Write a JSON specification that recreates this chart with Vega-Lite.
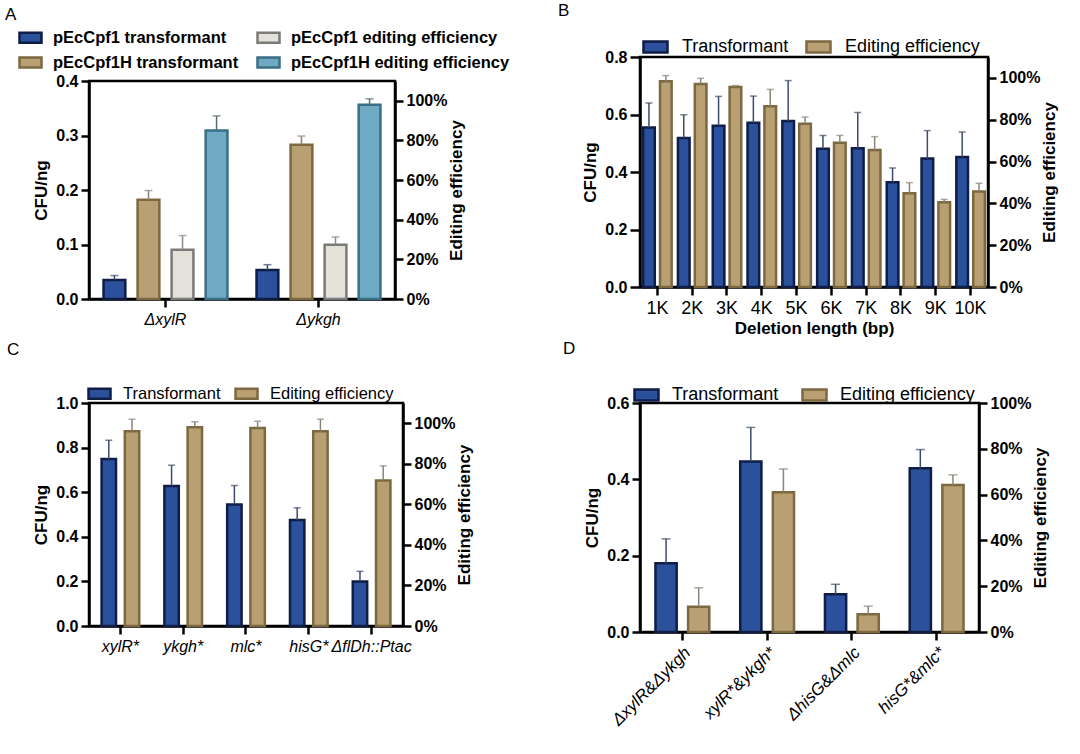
{
  "$schema": "https://vega.github.io/schema/vega-lite/v6.json",
  "background": "white",
  "padding": {"left": 3, "top": 0, "right": 5, "bottom": 5},
  "datasets": {
    "A": [
      {"g": "ΔxylR", "s": "pEcCpf1 transformant", "ax": "L", "v": 0.035, "e": 0.043},
      {"g": "ΔxylR", "s": "pEcCpf1H transformant", "ax": "L", "v": 0.182, "e": 0.199},
      {"g": "ΔxylR", "s": "pEcCpf1 editing efficiency", "ax": "R", "v": 24.9, "e": 32.0},
      {"g": "ΔxylR", "s": "pEcCpf1H editing efficiency", "ax": "R", "v": 85.0, "e": 92.4},
      {"g": "Δykgh", "s": "pEcCpf1 transformant", "ax": "L", "v": 0.053, "e": 0.063},
      {"g": "Δykgh", "s": "pEcCpf1H transformant", "ax": "L", "v": 0.283, "e": 0.299},
      {"g": "Δykgh", "s": "pEcCpf1 editing efficiency", "ax": "R", "v": 27.4, "e": 31.3},
      {"g": "Δykgh", "s": "pEcCpf1H editing efficiency", "ax": "R", "v": 98.0, "e": 101.0}
    ],
    "B": [
      {"g": "1K", "s": "Transformant", "ax": "L", "v": 0.555, "e": 0.640},
      {"g": "2K", "s": "Transformant", "ax": "L", "v": 0.518, "e": 0.599},
      {"g": "3K", "s": "Transformant", "ax": "L", "v": 0.561, "e": 0.663},
      {"g": "4K", "s": "Transformant", "ax": "L", "v": 0.571, "e": 0.664},
      {"g": "5K", "s": "Transformant", "ax": "L", "v": 0.577, "e": 0.718},
      {"g": "6K", "s": "Transformant", "ax": "L", "v": 0.481, "e": 0.527},
      {"g": "7K", "s": "Transformant", "ax": "L", "v": 0.483, "e": 0.607},
      {"g": "8K", "s": "Transformant", "ax": "L", "v": 0.364, "e": 0.414},
      {"g": "9K", "s": "Transformant", "ax": "L", "v": 0.447, "e": 0.544},
      {"g": "10K", "s": "Transformant", "ax": "L", "v": 0.452, "e": 0.539},
      {"g": "1K", "s": "Editing efficiency", "ax": "R", "v": 98.4, "e": 101.1},
      {"g": "2K", "s": "Editing efficiency", "ax": "R", "v": 97.1, "e": 99.8},
      {"g": "3K", "s": "Editing efficiency", "ax": "R", "v": 95.7, "e": 96.3},
      {"g": "4K", "s": "Editing efficiency", "ax": "R", "v": 86.4, "e": 94.5},
      {"g": "5K", "s": "Editing efficiency", "ax": "R", "v": 78.1, "e": 81.3},
      {"g": "6K", "s": "Editing efficiency", "ax": "R", "v": 69.0, "e": 72.5},
      {"g": "7K", "s": "Editing efficiency", "ax": "R", "v": 65.5, "e": 71.9},
      {"g": "8K", "s": "Editing efficiency", "ax": "R", "v": 44.8, "e": 49.9},
      {"g": "9K", "s": "Editing efficiency", "ax": "R", "v": 40.5, "e": 41.9},
      {"g": "10K", "s": "Editing efficiency", "ax": "R", "v": 45.7, "e": 49.6}
    ],
    "C": [
      {"g": "xylR*", "s": "Transformant", "ax": "L", "v": 0.749, "e": 0.833},
      {"g": "ykgh*", "s": "Transformant", "ax": "L", "v": 0.628, "e": 0.721},
      {"g": "mlc*", "s": "Transformant", "ax": "L", "v": 0.545, "e": 0.630},
      {"g": "hisG*", "s": "Transformant", "ax": "L", "v": 0.475, "e": 0.530},
      {"g": "ΔflDh::Ptac", "s": "Transformant", "ax": "L", "v": 0.199, "e": 0.245},
      {"g": "xylR*", "s": "Editing efficiency", "ax": "R", "v": 96.1, "e": 102.0},
      {"g": "ykgh*", "s": "Editing efficiency", "ax": "R", "v": 98.0, "e": 100.7},
      {"g": "mlc*", "s": "Editing efficiency", "ax": "R", "v": 97.7, "e": 101.0},
      {"g": "hisG*", "s": "Editing efficiency", "ax": "R", "v": 96.1, "e": 102.0},
      {"g": "ΔflDh::Ptac", "s": "Editing efficiency", "ax": "R", "v": 71.8, "e": 79.0}
    ],
    "D": [
      {"g": "ΔxylR&Δykgh", "s": "Transformant", "ax": "L", "v": 0.180, "e": 0.244},
      {"g": "xylR*&ykgh*", "s": "Transformant", "ax": "L", "v": 0.447, "e": 0.536},
      {"g": "ΔhisG&Δmlc", "s": "Transformant", "ax": "L", "v": 0.099, "e": 0.125},
      {"g": "hisG*&mlc*", "s": "Transformant", "ax": "L", "v": 0.429, "e": 0.478},
      {"g": "ΔxylR&Δykgh", "s": "Editing efficiency", "ax": "R", "v": 11.0, "e": 19.3},
      {"g": "xylR*&ykgh*", "s": "Editing efficiency", "ax": "R", "v": 61.0, "e": 71.2},
      {"g": "ΔhisG&Δmlc", "s": "Editing efficiency", "ax": "R", "v": 7.8, "e": 11.3},
      {"g": "hisG*&mlc*", "s": "Editing efficiency", "ax": "R", "v": 64.2, "e": 68.6}
    ]
  },
  "config": {
    "font": "Liberation Sans",
    "view": {"stroke": "black", "strokeWidth": 2.5},
    "title": {"fontSize": 17, "fontWeight": "normal", "anchor": "start", "frame": "group", "color": "black"},
    "axis": {
      "domainColor": "black", "domainWidth": 2.5, "tickColor": "black", "tickWidth": 2.5, "tickSize": 8,
      "labelColor": "black", "labelFontSize": 16, "labelFontWeight": "bold", "labelPadding": 3,
      "titleColor": "black", "titleFontSize": 17, "titleFontWeight": "bold", "titlePadding": 5, "grid": false
    },
    "legend": {"padding": 0, "labelColor": "black", "labelLimit": 400, "symbolStrokeWidth": 2.5, "symbolType": "M-1,-0.46L1,-0.46L1,0.46L-1,0.46Z"}
  },
  "spacing": 44,
  "resolve": {"scale": {"x": "independent", "xOffset": "independent", "y": "independent", "fill": "independent", "stroke": "independent", "color": "independent"}},
  "hconcat": [
    {
      "bounds": "flush",
      "spacing": 23,
      "resolve": {"scale": {"x": "independent", "xOffset": "independent", "y": "independent", "fill": "independent", "stroke": "independent", "color": "independent"}},
      "vconcat": [
        {"data": {"values": []}, "mark": "point", "width": 1, "height": 1, "view": {"stroke": null}},
        {
          "spacing": 10,
          "resolve": {"scale": {"x": "independent", "xOffset": "independent", "y": "independent", "fill": "independent", "stroke": "independent", "color": "independent"}},
          "vconcat": [
            {
              "title": {"text": "A", "dx": -84, "offset": 1},
              "width": 306, "height": 218,
              "data": {"name": "A"},
              "encoding": {
                "x": {"field": "g", "type": "nominal", "sort": null, "scale": {"paddingInner": 0.11, "paddingOuter": 0.055},
                      "axis": {"title": null, "labelFontSize": 16, "labelFontStyle": "italic", "labelFontWeight": "normal", "labelAngle": 0, "labelPadding": 4}},
                "xOffset": {"field": "s", "type": "nominal", "scale": {"domain": ["pEcCpf1 transformant", "pEcCpf1H transformant", "pEcCpf1 editing efficiency", "pEcCpf1H editing efficiency"], "paddingInner": 0.36, "paddingOuter": 0.18}}
              },
              "layer": [
                {
                  "transform": [{"filter": "datum.ax == 'L'"}],
                  "layer": [
                    {
                      "mark": {"type": "bar", "strokeWidth": 2.5},
                      "encoding": {
                        "y": {"field": "v", "type": "quantitative", "scale": {"domain": [0, 0.4]}, "axis": {"title": "CFU/ng", "values": [0, 0.1, 0.2, 0.3, 0.4], "format": ".1f"}},
                        "fill": {"field": "s", "type": "nominal", "scale": {"domain": ["pEcCpf1 transformant", "pEcCpf1 editing efficiency", "pEcCpf1H transformant", "pEcCpf1H editing efficiency"], "range": ["#2b519c", "#e3e1da", "#b9a073", "#6eaac3"]},
                                 "legend": {"title": null, "orient": "none", "legendX": -71, "legendY": -56, "columns": 2, "direction": "horizontal", "symbolSize": 484, "labelFontSize": 16.5, "labelFontWeight": "bold", "labelOffset": 10, "columnPadding": 13, "rowPadding": 2}},
                        "stroke": {"field": "s", "type": "nominal", "scale": {"domain": ["pEcCpf1 transformant", "pEcCpf1 editing efficiency", "pEcCpf1H transformant", "pEcCpf1H editing efficiency"], "range": ["#0f1d47", "#7a7a78", "#7c6841", "#3b6f86"]},
                                 "legend": {"title": null, "orient": "none", "legendX": -71, "legendY": -56, "columns": 2, "direction": "horizontal", "symbolSize": 484, "labelFontSize": 16.5, "labelFontWeight": "bold", "labelOffset": 10, "columnPadding": 13, "rowPadding": 2}}
                      }
                    },
                    {
                      "mark": {"type": "rule", "strokeWidth": 1.5},
                      "encoding": {
                        "y": {"field": "v", "type": "quantitative"}, "y2": {"field": "e"},
                        "color": {"field": "s", "type": "nominal", "scale": {"domain": ["pEcCpf1 transformant", "pEcCpf1 editing efficiency", "pEcCpf1H transformant", "pEcCpf1H editing efficiency"], "range": ["#3d4a6a", "#8a8a8a", "#8a8578", "#5a6a72"]}, "legend": null}
                      }
                    },
                    {
                      "mark": {"type": "tick", "thickness": 1.5, "size": 8},
                      "encoding": {
                        "y": {"field": "e", "type": "quantitative"},
                        "color": {"field": "s", "type": "nominal", "scale": {"domain": ["pEcCpf1 transformant", "pEcCpf1 editing efficiency", "pEcCpf1H transformant", "pEcCpf1H editing efficiency"], "range": ["#3d4a6a", "#8a8a8a", "#8a8578", "#5a6a72"]}, "legend": null}
                      }
                    }
                  ]
                },
                {
                  "transform": [{"filter": "datum.ax == 'R'"}],
                  "layer": [
                    {
                      "mark": {"type": "bar", "strokeWidth": 2.5},
                      "encoding": {
                        "y": {"field": "v", "type": "quantitative", "scale": {"domain": [0, 110]}, "axis": {"orient": "right", "title": "Editing efficiency", "titleAngle": 270, "titleBaseline": "top", "titlePadding": 2, "values": [0, 20, 40, 60, 80, 100], "labelExpr": "datum.value + '%'"}},
                        "fill": {"field": "s", "type": "nominal", "scale": {"domain": ["pEcCpf1 transformant", "pEcCpf1 editing efficiency", "pEcCpf1H transformant", "pEcCpf1H editing efficiency"], "range": ["#2b519c", "#e3e1da", "#b9a073", "#6eaac3"]},
                                 "legend": {"title": null, "orient": "none", "legendX": -71, "legendY": -56, "columns": 2, "direction": "horizontal", "symbolSize": 484, "labelFontSize": 16.5, "labelFontWeight": "bold", "labelOffset": 10, "columnPadding": 13, "rowPadding": 2}},
                        "stroke": {"field": "s", "type": "nominal", "scale": {"domain": ["pEcCpf1 transformant", "pEcCpf1 editing efficiency", "pEcCpf1H transformant", "pEcCpf1H editing efficiency"], "range": ["#0f1d47", "#7a7a78", "#7c6841", "#3b6f86"]},
                                 "legend": {"title": null, "orient": "none", "legendX": -71, "legendY": -56, "columns": 2, "direction": "horizontal", "symbolSize": 484, "labelFontSize": 16.5, "labelFontWeight": "bold", "labelOffset": 10, "columnPadding": 13, "rowPadding": 2}}
                      }
                    },
                    {
                      "mark": {"type": "rule", "strokeWidth": 1.5},
                      "encoding": {
                        "y": {"field": "v", "type": "quantitative"}, "y2": {"field": "e"},
                        "color": {"field": "s", "type": "nominal", "scale": {"domain": ["pEcCpf1 transformant", "pEcCpf1 editing efficiency", "pEcCpf1H transformant", "pEcCpf1H editing efficiency"], "range": ["#3d4a6a", "#8a8a8a", "#8a8578", "#5a6a72"]}, "legend": null}
                      }
                    },
                    {
                      "mark": {"type": "tick", "thickness": 1.5, "size": 8},
                      "encoding": {
                        "y": {"field": "e", "type": "quantitative"},
                        "color": {"field": "s", "type": "nominal", "scale": {"domain": ["pEcCpf1 transformant", "pEcCpf1 editing efficiency", "pEcCpf1H transformant", "pEcCpf1H editing efficiency"], "range": ["#3d4a6a", "#8a8a8a", "#8a8578", "#5a6a72"]}, "legend": null}
                      }
                    }
                  ]
                }
              ],
              "resolve": {"scale": {"y": "independent"}}
            },
            {
              "title": {"text": "C", "dx": -82, "offset": 22},
              "width": 314, "height": 223,
              "data": {"name": "C"},
              "encoding": {
                "x": {"field": "g", "type": "nominal", "sort": null, "scale": {"paddingInner": 0.26, "paddingOuter": 0.13},
                      "axis": {"title": null, "labelFontSize": 16, "labelFontStyle": "italic", "labelFontWeight": "normal", "labelAngle": 0, "labelPadding": 4}},
                "xOffset": {"field": "s", "type": "nominal", "scale": {"domain": ["Transformant", "Editing efficiency"], "paddingInner": 0.38, "paddingOuter": 0.19}}
              },
              "layer": [
                {
                  "transform": [{"filter": "datum.ax == 'L'"}],
                  "layer": [
                    {
                      "mark": {"type": "bar", "strokeWidth": 2.5},
                      "encoding": {
                        "y": {"field": "v", "type": "quantitative", "scale": {"domain": [0, 1]}, "axis": {"title": "CFU/ng", "values": [0, 0.2, 0.4, 0.6, 0.8, 1.0], "format": ".1f"}},
                        "fill": {"field": "s", "type": "nominal", "scale": {"domain": ["Transformant", "Editing efficiency"], "range": ["#2b519c", "#b9a073"]},
                                 "legend": {"title": null, "orient": "none", "legendX": -2, "legendY": -22, "direction": "horizontal", "symbolSize": 484, "labelFontSize": 16.5, "labelOffset": 11, "columnPadding": 9}},
                        "stroke": {"field": "s", "type": "nominal", "scale": {"domain": ["Transformant", "Editing efficiency"], "range": ["#0f1d47", "#7c6841"]},
                                 "legend": {"title": null, "orient": "none", "legendX": -2, "legendY": -22, "direction": "horizontal", "symbolSize": 484, "labelFontSize": 16.5, "labelOffset": 11, "columnPadding": 9}}
                      }
                    },
                    {
                      "mark": {"type": "rule", "strokeWidth": 1.5},
                      "encoding": {
                        "y": {"field": "v", "type": "quantitative"}, "y2": {"field": "e"},
                        "color": {"field": "s", "type": "nominal", "scale": {"domain": ["Transformant", "Editing efficiency"], "range": ["#3d4a6a", "#8a8578"]}, "legend": null}
                      }
                    },
                    {
                      "mark": {"type": "tick", "thickness": 1.5, "size": 7},
                      "encoding": {
                        "y": {"field": "e", "type": "quantitative"},
                        "color": {"field": "s", "type": "nominal", "scale": {"domain": ["Transformant", "Editing efficiency"], "range": ["#3d4a6a", "#8a8578"]}, "legend": null}
                      }
                    }
                  ]
                },
                {
                  "transform": [{"filter": "datum.ax == 'R'"}],
                  "layer": [
                    {
                      "mark": {"type": "bar", "strokeWidth": 2.5},
                      "encoding": {
                        "y": {"field": "v", "type": "quantitative", "scale": {"domain": [0, 110]}, "axis": {"orient": "right", "title": "Editing efficiency", "titleAngle": 270, "titleBaseline": "top", "titlePadding": 2, "values": [0, 20, 40, 60, 80, 100], "labelExpr": "datum.value + '%'"}},
                        "fill": {"field": "s", "type": "nominal", "scale": {"domain": ["Transformant", "Editing efficiency"], "range": ["#2b519c", "#b9a073"]},
                                 "legend": {"title": null, "orient": "none", "legendX": -2, "legendY": -22, "direction": "horizontal", "symbolSize": 484, "labelFontSize": 16.5, "labelOffset": 11, "columnPadding": 9}},
                        "stroke": {"field": "s", "type": "nominal", "scale": {"domain": ["Transformant", "Editing efficiency"], "range": ["#0f1d47", "#7c6841"]},
                                 "legend": {"title": null, "orient": "none", "legendX": -2, "legendY": -22, "direction": "horizontal", "symbolSize": 484, "labelFontSize": 16.5, "labelOffset": 11, "columnPadding": 9}}
                      }
                    },
                    {
                      "mark": {"type": "rule", "strokeWidth": 1.5},
                      "encoding": {
                        "y": {"field": "v", "type": "quantitative"}, "y2": {"field": "e"},
                        "color": {"field": "s", "type": "nominal", "scale": {"domain": ["Transformant", "Editing efficiency"], "range": ["#3d4a6a", "#8a8578"]}, "legend": null}
                      }
                    },
                    {
                      "mark": {"type": "tick", "thickness": 1.5, "size": 7},
                      "encoding": {
                        "y": {"field": "e", "type": "quantitative"},
                        "color": {"field": "s", "type": "nominal", "scale": {"domain": ["Transformant", "Editing efficiency"], "range": ["#3d4a6a", "#8a8578"]}, "legend": null}
                      }
                    }
                  ]
                }
              ],
              "resolve": {"scale": {"y": "independent"}}
            }
          ]
        }
      ]
    },
    {
      "spacing": 0,
      "resolve": {"scale": {"x": "independent", "xOffset": "independent", "y": "independent", "fill": "independent", "stroke": "independent", "color": "independent"}},
      "vconcat": [
        {
          "title": {"text": "B", "dx": -82, "offset": 13},
          "width": 348, "height": 230,
          "data": {"name": "B"},
          "encoding": {
            "x": {"field": "g", "type": "nominal", "sort": null, "scale": {"paddingInner": 0.03, "paddingOuter": 0.015},
                  "axis": {"title": "Deletion length (bp)", "labelFontSize": 18, "labelFontWeight": "normal", "labelAngle": 0, "labelPadding": 4, "titlePadding": 3}},
            "xOffset": {"field": "s", "type": "nominal", "scale": {"domain": ["Transformant", "Editing efficiency"], "paddingInner": 0.31, "paddingOuter": 0.155}}
          },
          "layer": [
            {
              "transform": [{"filter": "datum.ax == 'L'"}],
              "layer": [
                {
                  "mark": {"type": "bar", "strokeWidth": 2.5},
                  "encoding": {
                    "y": {"field": "v", "type": "quantitative", "scale": {"domain": [0, 0.8]}, "axis": {"title": "CFU/ng", "values": [0, 0.2, 0.4, 0.6, 0.8], "format": ".1f", "tickSize": 10}},
                    "fill": {"field": "s", "type": "nominal", "scale": {"domain": ["Transformant", "Editing efficiency"], "range": ["#2b519c", "#b9a073"]},
                             "legend": {"title": null, "orient": "none", "legendX": 2, "legendY": -24, "direction": "horizontal", "symbolSize": 576, "labelFontSize": 18, "labelOffset": 13, "columnPadding": 12}},
                    "stroke": {"field": "s", "type": "nominal", "scale": {"domain": ["Transformant", "Editing efficiency"], "range": ["#0f1d47", "#7c6841"]},
                             "legend": {"title": null, "orient": "none", "legendX": 2, "legendY": -24, "direction": "horizontal", "symbolSize": 576, "labelFontSize": 18, "labelOffset": 13, "columnPadding": 12}}
                  }
                },
                {
                  "mark": {"type": "rule", "strokeWidth": 1.5},
                  "encoding": {
                    "y": {"field": "v", "type": "quantitative"}, "y2": {"field": "e"},
                    "color": {"field": "s", "type": "nominal", "scale": {"domain": ["Transformant", "Editing efficiency"], "range": ["#3d4a6a", "#8a8578"]}, "legend": null}
                  }
                },
                {
                  "mark": {"type": "tick", "thickness": 1.5, "size": 7},
                  "encoding": {
                    "y": {"field": "e", "type": "quantitative"},
                    "color": {"field": "s", "type": "nominal", "scale": {"domain": ["Transformant", "Editing efficiency"], "range": ["#3d4a6a", "#8a8578"]}, "legend": null}
                  }
                }
              ]
            },
            {
              "transform": [{"filter": "datum.ax == 'R'"}],
              "layer": [
                {
                  "mark": {"type": "bar", "strokeWidth": 2.5},
                  "encoding": {
                    "y": {"field": "v", "type": "quantitative", "scale": {"domain": [0, 110]}, "axis": {"orient": "right", "title": "Editing efficiency", "titleAngle": 270, "titleBaseline": "top", "titlePadding": 2, "values": [0, 20, 40, 60, 80, 100], "labelExpr": "datum.value + '%'"}},
                    "fill": {"field": "s", "type": "nominal", "scale": {"domain": ["Transformant", "Editing efficiency"], "range": ["#2b519c", "#b9a073"]},
                             "legend": {"title": null, "orient": "none", "legendX": 2, "legendY": -24, "direction": "horizontal", "symbolSize": 576, "labelFontSize": 18, "labelOffset": 13, "columnPadding": 12}},
                    "stroke": {"field": "s", "type": "nominal", "scale": {"domain": ["Transformant", "Editing efficiency"], "range": ["#0f1d47", "#7c6841"]},
                             "legend": {"title": null, "orient": "none", "legendX": 2, "legendY": -24, "direction": "horizontal", "symbolSize": 576, "labelFontSize": 18, "labelOffset": 13, "columnPadding": 12}}
                  }
                },
                {
                  "mark": {"type": "rule", "strokeWidth": 1.5},
                  "encoding": {
                    "y": {"field": "v", "type": "quantitative"}, "y2": {"field": "e"},
                    "color": {"field": "s", "type": "nominal", "scale": {"domain": ["Transformant", "Editing efficiency"], "range": ["#3d4a6a", "#8a8578"]}, "legend": null}
                  }
                },
                {
                  "mark": {"type": "tick", "thickness": 1.5, "size": 7},
                  "encoding": {
                    "y": {"field": "e", "type": "quantitative"},
                    "color": {"field": "s", "type": "nominal", "scale": {"domain": ["Transformant", "Editing efficiency"], "range": ["#3d4a6a", "#8a8578"]}, "legend": null}
                  }
                }
              ]
            }
          ],
          "resolve": {"scale": {"y": "independent"}}
        },
        {
          "title": {"text": "D", "dx": -77, "offset": 23},
          "width": 339, "height": 229,
          "data": {"name": "D"},
          "encoding": {
            "x": {"field": "g", "type": "nominal", "sort": null, "scale": {"paddingInner": 0.23, "paddingOuter": 0.115},
                  "axis": {"title": null, "labelFontSize": 17, "labelFontStyle": "italic", "labelFontWeight": "normal", "labelAngle": -45, "labelPadding": 4}},
            "xOffset": {"field": "s", "type": "nominal", "scale": {"domain": ["Transformant", "Editing efficiency"], "paddingInner": 0.35, "paddingOuter": 0.175}}
          },
          "layer": [
            {
              "transform": [{"filter": "datum.ax == 'L'"}],
              "layer": [
                {
                  "mark": {"type": "bar", "strokeWidth": 2.5},
                  "encoding": {
                    "y": {"field": "v", "type": "quantitative", "scale": {"domain": [0, 0.6]}, "axis": {"title": "CFU/ng", "values": [0, 0.2, 0.4, 0.6], "format": ".1f"}},
                    "fill": {"field": "s", "type": "nominal", "scale": {"domain": ["Transformant", "Editing efficiency"], "range": ["#2b519c", "#b9a073"]},
                             "legend": {"title": null, "orient": "none", "legendX": -7, "legendY": -22, "direction": "horizontal", "symbolSize": 576, "labelFontSize": 18, "labelOffset": 12, "columnPadding": 18}},
                    "stroke": {"field": "s", "type": "nominal", "scale": {"domain": ["Transformant", "Editing efficiency"], "range": ["#0f1d47", "#7c6841"]},
                             "legend": {"title": null, "orient": "none", "legendX": -7, "legendY": -22, "direction": "horizontal", "symbolSize": 576, "labelFontSize": 18, "labelOffset": 12, "columnPadding": 18}}
                  }
                },
                {
                  "mark": {"type": "rule", "strokeWidth": 1.5},
                  "encoding": {
                    "y": {"field": "v", "type": "quantitative"}, "y2": {"field": "e"},
                    "color": {"field": "s", "type": "nominal", "scale": {"domain": ["Transformant", "Editing efficiency"], "range": ["#3d4a6a", "#8a8578"]}, "legend": null}
                  }
                },
                {
                  "mark": {"type": "tick", "thickness": 1.5, "size": 9},
                  "encoding": {
                    "y": {"field": "e", "type": "quantitative"},
                    "color": {"field": "s", "type": "nominal", "scale": {"domain": ["Transformant", "Editing efficiency"], "range": ["#3d4a6a", "#8a8578"]}, "legend": null}
                  }
                }
              ]
            },
            {
              "transform": [{"filter": "datum.ax == 'R'"}],
              "layer": [
                {
                  "mark": {"type": "bar", "strokeWidth": 2.5},
                  "encoding": {
                    "y": {"field": "v", "type": "quantitative", "scale": {"domain": [0, 100]}, "axis": {"orient": "right", "title": "Editing efficiency", "titleAngle": 270, "titleBaseline": "top", "titlePadding": 2, "values": [0, 20, 40, 60, 80, 100], "labelExpr": "datum.value + '%'"}},
                    "fill": {"field": "s", "type": "nominal", "scale": {"domain": ["Transformant", "Editing efficiency"], "range": ["#2b519c", "#b9a073"]},
                             "legend": {"title": null, "orient": "none", "legendX": -7, "legendY": -22, "direction": "horizontal", "symbolSize": 576, "labelFontSize": 18, "labelOffset": 12, "columnPadding": 18}},
                    "stroke": {"field": "s", "type": "nominal", "scale": {"domain": ["Transformant", "Editing efficiency"], "range": ["#0f1d47", "#7c6841"]},
                             "legend": {"title": null, "orient": "none", "legendX": -7, "legendY": -22, "direction": "horizontal", "symbolSize": 576, "labelFontSize": 18, "labelOffset": 12, "columnPadding": 18}}
                  }
                },
                {
                  "mark": {"type": "rule", "strokeWidth": 1.5},
                  "encoding": {
                    "y": {"field": "v", "type": "quantitative"}, "y2": {"field": "e"},
                    "color": {"field": "s", "type": "nominal", "scale": {"domain": ["Transformant", "Editing efficiency"], "range": ["#3d4a6a", "#8a8578"]}, "legend": null}
                  }
                },
                {
                  "mark": {"type": "tick", "thickness": 1.5, "size": 9},
                  "encoding": {
                    "y": {"field": "e", "type": "quantitative"},
                    "color": {"field": "s", "type": "nominal", "scale": {"domain": ["Transformant", "Editing efficiency"], "range": ["#3d4a6a", "#8a8578"]}, "legend": null}
                  }
                }
              ]
            }
          ],
          "resolve": {"scale": {"y": "independent"}}
        }
      ]
    }
  ]
}
